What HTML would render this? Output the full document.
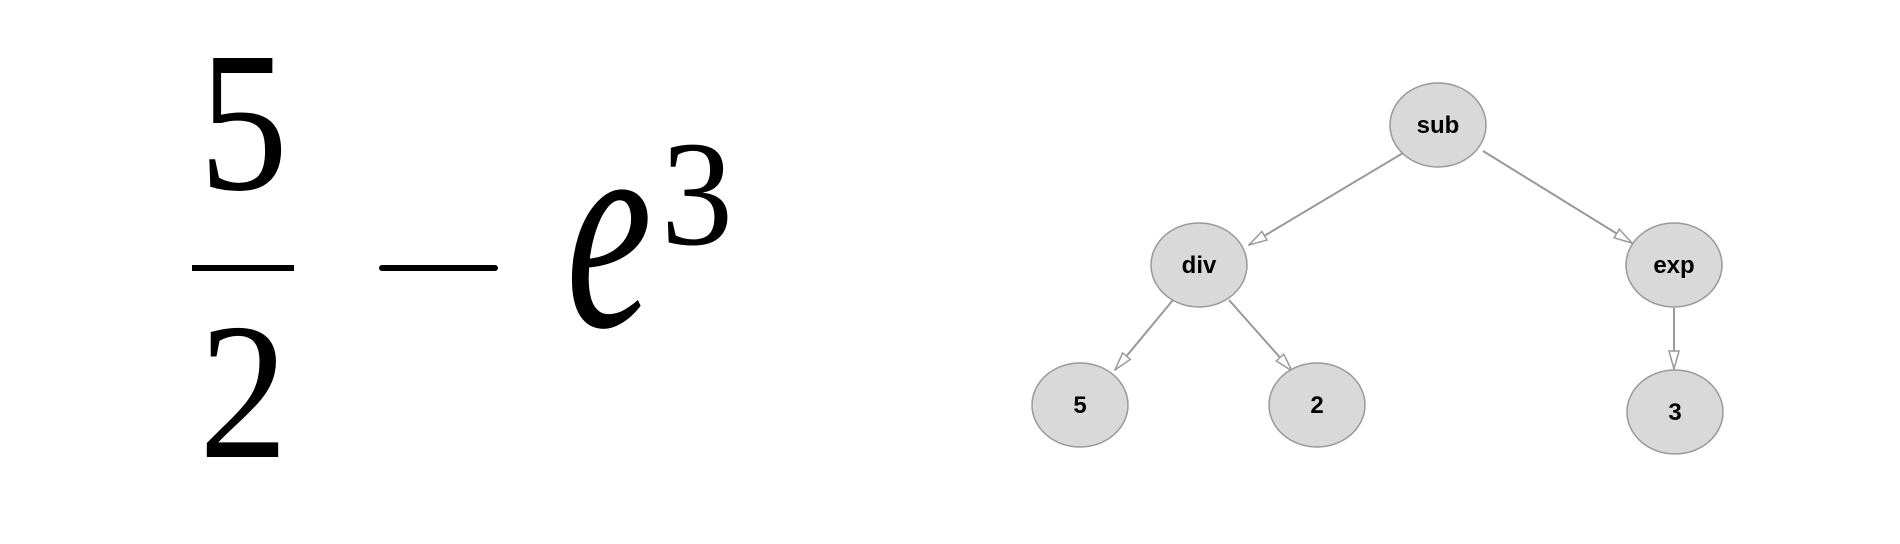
<!DOCTYPE html>
<html><head><style>html,body{margin:0;padding:0;background:#fff;width:1900px;height:544px;overflow:hidden}</style></head>
<body>
<svg width="1900" height="544" xmlns="http://www.w3.org/2000/svg">
<defs>
<marker id="a" markerWidth="20" markerHeight="12" refX="19" refY="6" orient="auto" markerUnits="userSpaceOnUse">
<path d="M1,1 L19,6 L1,11 Z" fill="#fff" stroke="#999" stroke-width="1.5"/>
</marker>
</defs>
<g font-family="Liberation Serif, serif" fill="#000">
<text x="199" y="189" font-size="200" textLength="89" lengthAdjust="spacingAndGlyphs">5</text>
<rect x="192" y="265" width="102" height="6"/>
<text x="199" y="457" font-size="195" textLength="89" lengthAdjust="spacingAndGlyphs">2</text>
<rect x="379" y="265" width="119" height="6" rx="3"/>
<text x="566" y="326" font-size="290" font-style="italic" textLength="86" lengthAdjust="spacingAndGlyphs">e</text>
<text x="661" y="244" font-size="150" textLength="72" lengthAdjust="spacingAndGlyphs">3</text>
</g>
<g stroke="#999" stroke-width="2" fill="none" marker-end="url(#a)">
<line x1="1403" y1="153" x2="1249" y2="245"/>
<line x1="1483" y1="151" x2="1632" y2="243"/>
<line x1="1173" y1="300" x2="1115" y2="370"/>
<line x1="1229" y1="300" x2="1292" y2="371"/>
<line x1="1674" y1="308" x2="1674" y2="369"/>
</g>
<g fill="#d9d9d9" stroke="#999" stroke-width="1.5">
<ellipse cx="1438" cy="125" rx="48" ry="42"/>
<ellipse cx="1199" cy="265" rx="48" ry="42"/>
<ellipse cx="1674" cy="265" rx="48" ry="42"/>
<ellipse cx="1080" cy="405" rx="48" ry="42"/>
<ellipse cx="1317" cy="405" rx="48" ry="42"/>
<ellipse cx="1675" cy="412" rx="48" ry="42"/>
</g>
<g font-family="Liberation Sans, sans-serif" font-weight="bold" font-size="24" text-anchor="middle" fill="#000">
<text x="1438" y="133">sub</text>
<text x="1199" y="273">div</text>
<text x="1674" y="273">exp</text>
<text x="1080" y="413">5</text>
<text x="1317" y="413">2</text>
<text x="1675" y="420">3</text>
</g>
</svg>
</body></html>
